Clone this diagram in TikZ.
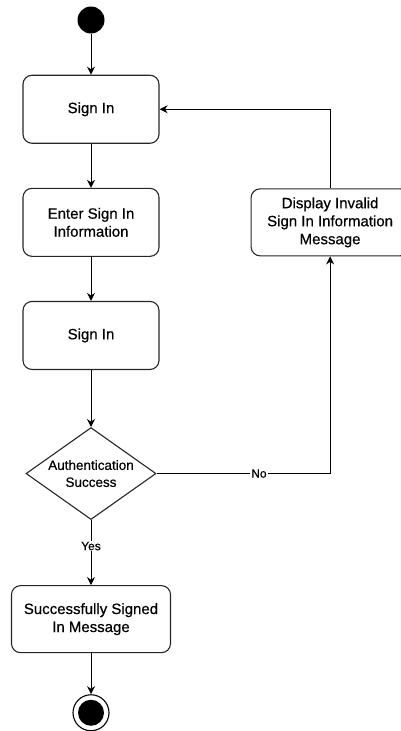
\documentclass[tikz,border=0pt]{standalone}
\usepackage{fontspec}
\setmainfont{Liberation Sans}[FakeBold=0.5]
\usetikzlibrary{shapes.geometric, arrows.meta, positioning}

\begin{document}
\begin{tikzpicture}[
    x=1pt, y=1pt,
    startdot/.style={circle, fill=black, minimum size=27pt, inner sep=0pt},
    activity/.style={rectangle, rounded corners=9pt, minimum width=136pt, minimum height=68pt, align=center, draw=black!85, line width=1.1pt, font=\fontsize{15}{18}\selectfont},
    decision/.style={diamond, minimum width=130pt, minimum height=92pt, inner sep=0pt, draw=black!85, line width=1.1pt},
    guard/.style={fill=white, inner sep=1pt, font=\fontsize{12}{14}\selectfont},
    arrow/.style={-{Stealth[length=8pt, width=8pt]}, line width=1pt}
]

% Frame
\clip (0,0) rectangle (401,-731);
\useasboundingbox (0,0) rectangle (401,-731);

% Start
\node[startdot] (start) at (91,-20) {};

% First Sign In
\node[activity, below=41pt of start] (signin) {Sign In};

% Enter Sign In Information
\node[activity, below=44pt of signin] (enterinfo) {Enter Sign In\\Information};

% Second Sign In
\node[activity, below=44pt of enterinfo] (submit) {Sign In};

% Authentication check
\node[decision, below=57pt of submit] (auth) {};
\node[align=center, font=\fontsize{13.5}{17}\selectfont] (authtext) at (auth.center) {Authentication\\Success};

% Invalid message
\node[activity, minimum width=158pt, minimum height=67pt, right=91pt of enterinfo.east, anchor=west] (invalid) {Display Invalid\\Sign In Information\\Message};

% Success message
\node[activity, minimum width=159pt, minimum height=67pt, below=65pt of auth] (success) {Successfully Signed\\In Message};

% Stop
\node[circle, draw=black, line width=1.1pt, minimum size=36pt, inner sep=0pt, below=41pt of success] (stop) {};
\node[circle, fill=black, minimum size=26pt, inner sep=0pt] (stopdot) at (stop.center) {};

% Arrows
\draw[arrow] (start) -- (signin);
\draw[arrow] (signin) -- (enterinfo);
\draw[arrow] (enterinfo) -- (submit);
\draw[arrow] (submit) -- (auth);
\draw[arrow] (auth) -- node[guard, pos=0.4] {Yes} (success);
\draw[arrow] (auth.east) -| node[guard, pos=0.295] {No} (invalid.south);
\draw[arrow] (invalid.north) |- (signin.east);
\draw[arrow] (success) -- (stop);

\end{tikzpicture}
\end{document}
